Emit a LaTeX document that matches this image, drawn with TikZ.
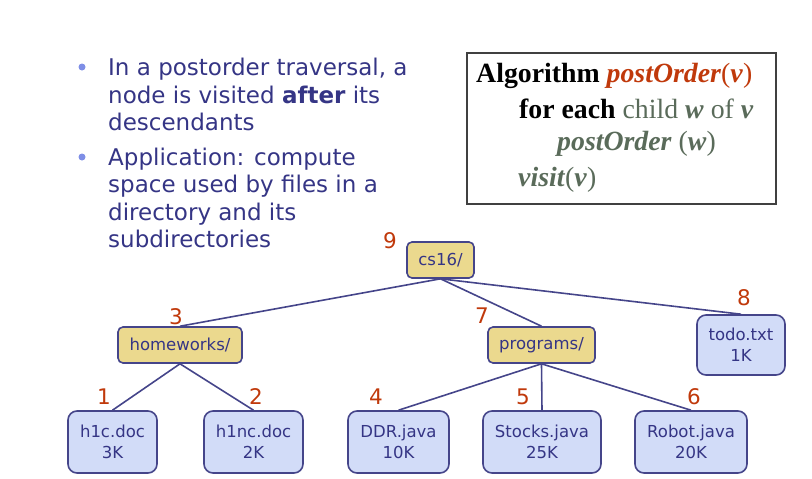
\documentclass[tikz,border=0pt]{standalone}
\usepackage{fontspec}
\setmainfont{Liberation Serif}
\newfontfamily\vfont{DejaVu Sans}
\definecolor{txtblue}{HTML}{353585}
\definecolor{bulletc}{HTML}{7E8EE6}
\definecolor{numred}{HTML}{C0390B}
\definecolor{algred}{HTML}{C0390B}
\definecolor{algg}{HTML}{5A6B5A}
\definecolor{dirfill}{HTML}{EBD98E}
\definecolor{filefill}{HTML}{D2DCF8}
\definecolor{edgec}{HTML}{45458A}
\tikzset{
  dirbox/.style={draw=edgec, line width=1.6pt, fill=dirfill, rounded corners=5pt, inner sep=0pt, minimum height=36pt, text=txtblue, font=\vfont\fontsize{16.5}{20}\selectfont},
  filebox/.style={draw=edgec, line width=1.6pt, fill=filefill, rounded corners=9pt, inner sep=0pt, minimum height=62pt, text=txtblue, align=center, font=\vfont\fontsize{16.5}{21}\selectfont},
  num/.style={text=numred, inner sep=0pt, font=\vfont\fontsize{21.5}{21.5}\selectfont},
  bline/.style={anchor=base west, inner sep=0pt, text=txtblue, font=\vfont\fontsize{23}{27}\selectfont},
  aline/.style={anchor=base west, inner sep=0pt, font=\fontsize{27.8}{32}\selectfont},
  edge/.style={draw=edgec, line width=1.6pt}
}
\begin{document}
\begin{tikzpicture}[x=1pt,y=-1pt]
\useasboundingbox (0,0) rectangle (812,479);
% bullets
\fill[bulletc] (82,67) circle (3.5);
\fill[bulletc] (82,157) circle (3.5);
\node[bline] (b1) at (108,75) {In a postorder traversal, a};
\node[bline] (b2) at (108,103) {node is visited \textbf{after} its};
\node[bline] (b3) at (108,130) {descendants};
\node[bline] (b4) at (108,165) {Application: compute};
\node[bline] (b5) at (108,192) {space used by files in a};
\node[bline] (b6) at (108,220) {directory and its};
\node[bline] (b7) at (108,247) {subdirectories};
% algorithm box
\draw[draw=black!75, line width=1.5pt] (467,53) rectangle (776,204);
\node[aline] (a1) at (476,82) {\textbf{Algorithm} \textcolor{algred}{\textbf{\textit{postOrder}}(\textbf{\textit{v}})}};
\node[aline] (a2) at (519,118) {\textbf{for each} \textcolor{algg}{child \textbf{\textit{w}} of \textbf{\textit{v}}}};
\node[aline] (a3) at (557,150) {\textcolor{algg}{\textbf{\textit{postOrder}} (\textbf{\textit{w}})}};
\node[aline] (a4) at (518,186) {\textcolor{algg}{\textbf{\textit{visit}}(\textbf{\textit{v}})}};
% tree
\node[dirbox, minimum width=67pt] (cs) at (440.5,260) {cs16/};
\node[dirbox, minimum width=124pt] (hw) at (180,345) {homeworks/};
\node[dirbox, minimum width=107pt] (pr) at (541.5,345) {programs/};
\node[filebox, minimum width=88pt, minimum height=60pt] (todo) at (741,345) {todo.txt\\1K};
\node[filebox, minimum width=89pt] (h1c) at (112.5,442) {h1c.doc\\3K};
\node[filebox, minimum width=99pt] (h1nc) at (253.5,442) {h1nc.doc\\2K};
\node[filebox, minimum width=101pt] (ddr) at (398.5,442) {DDR.java\\10K};
\node[filebox, minimum width=118pt] (stk) at (542,442) {Stocks.java\\25K};
\node[filebox, minimum width=112pt] (rob) at (691,442) {Robot.java\\20K};
\draw[edge] (cs.south) -- (hw.north);
\draw[edge] (cs.south) -- (pr.north);
\draw[edge] (cs.south) -- (todo.north);
\draw[edge] (hw.south) -- (h1c.north);
\draw[edge] (hw.south) -- (h1nc.north);
\draw[edge] (pr.south) -- (ddr.north);
\draw[edge] (pr.south) -- (stk.north);
\draw[edge] (pr.south) -- (rob.north);
% numbers
\node[num] (n9) at (390,241) {9};
\node[num] (n3) at (176,317) {3};
\node[num] (n7) at (482,316) {7};
\node[num] (n8) at (744,298) {8};
\node[num] (n1) at (104,397) {1};
\node[num] (n2) at (256,397) {2};
\node[num] (n4) at (376,397) {4};
\node[num] (n5) at (523,397) {5};
\node[num] (n6) at (694,397) {6};
\end{tikzpicture}
\end{document}
